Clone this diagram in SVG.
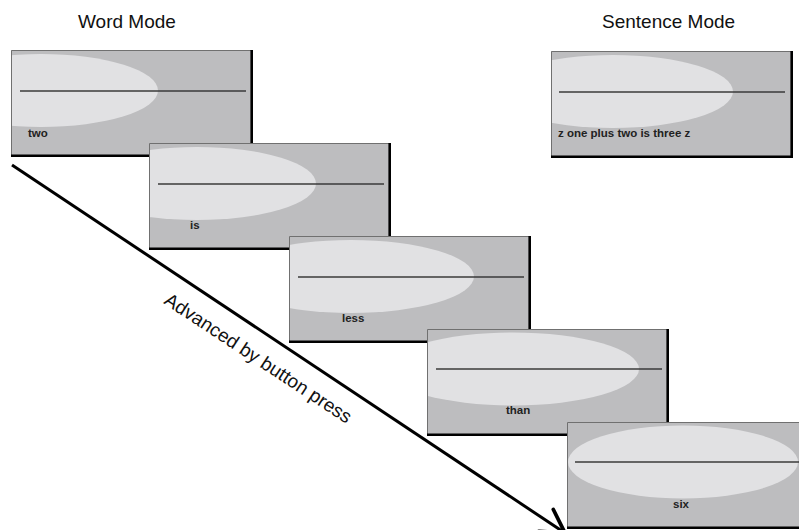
<svg xmlns="http://www.w3.org/2000/svg" width="799" height="530" viewBox="0 0 799 530">
  <defs>
    <marker id="arrow" markerUnits="userSpaceOnUse" markerWidth="30" markerHeight="30" refX="0" refY="0" viewBox="-22 -12 24 24" orient="auto" overflow="visible">
      <path d="M-18.2,-10.5 L0,0 L-18.2,10.5" fill="none" stroke="#000" stroke-width="3" stroke-linecap="round" stroke-linejoin="miter"/>
    </marker>
  </defs>
  <style>
    .bg { fill: #bdbdbf; }
    .ell { fill: #e1e1e3; }
    .rule { stroke: #3a3a3a; stroke-width: 1.6; }
    .edge { fill: none; stroke: #707070; stroke-width: 1; }
    .shadow { fill: none; stroke: #000; stroke-width: 2.6; }
    .word { font-family: "Liberation Sans", Arial, sans-serif; font-weight: bold; font-size: 11.5px; fill: #222; }
    .title { font-family: "Liberation Sans", Arial, sans-serif; font-size: 19px; fill: #111; }
    .conn { stroke: #000; stroke-width: 3; fill: none; }
  </style>
  <rect width="799" height="530" fill="#fff"/>

  <text class="title" x="78" y="28">Word Mode</text>
  <text class="title" x="602" y="28">Sentence Mode</text>

  <g id="connectors">
    <line class="conn" x1="12" y1="165" x2="565" y2="533" marker-end="url(#arrow)"/>
    <text class="title" transform="translate(163,303) rotate(33.4)">Advanced by button press</text>
  </g>

  <g id="sentence-box">
    <svg x="551" y="51" width="242" height="107">
      <rect class="bg" x="0" y="0" width="242" height="107"/>
      <ellipse class="ell" cx="62" cy="40.5" rx="120" ry="36.5"/>
      <line class="rule" x1="8" y1="41" x2="234" y2="41"/>
      <text class="word" x="7" y="86">z one plus two is three z</text>
      <path class="edge" d="M0.5,105 V0.5 H240"/>
      <path class="shadow" d="M240.7,0 V105.7 H0"/>
    </svg>
  </g>

  <g id="word-box-1">
    <svg x="11" y="50" width="242" height="107">
      <rect class="bg" x="0" y="0" width="242" height="107"/>
      <ellipse class="ell" cx="30" cy="40.5" rx="117" ry="36.5"/>
      <line class="rule" x1="9" y1="41" x2="235" y2="41"/>
      <text class="word" x="17" y="87">two</text>
      <path class="edge" d="M0.5,105 V0.5 H240"/>
      <path class="shadow" d="M240.7,0 V105.7 H0"/>
    </svg>
  </g>

  <g id="word-box-2">
    <svg x="149" y="143" width="242" height="107">
      <rect class="bg" x="0" y="0" width="242" height="107"/>
      <ellipse class="ell" cx="48" cy="40.5" rx="119" ry="36.5"/>
      <line class="rule" x1="9" y1="41" x2="235" y2="41"/>
      <text class="word" x="41" y="86">is</text>
      <path class="edge" d="M0.5,105 V0.5 H240"/>
      <path class="shadow" d="M240.7,0 V105.7 H0"/>
    </svg>
  </g>

  <g id="word-box-3">
    <svg x="289" y="236" width="242" height="107">
      <rect class="bg" x="0" y="0" width="242" height="107"/>
      <ellipse class="ell" cx="62" cy="40.5" rx="123" ry="36.5"/>
      <line class="rule" x1="9" y1="41" x2="235" y2="41"/>
      <text class="word" x="53" y="86">less</text>
      <path class="edge" d="M0.5,105 V0.5 H240"/>
      <path class="shadow" d="M240.7,0 V105.7 H0"/>
    </svg>
  </g>

  <g id="word-box-4">
    <svg x="427" y="329" width="242" height="107">
      <rect class="bg" x="0" y="0" width="242" height="107"/>
      <ellipse class="ell" cx="86" cy="40" rx="126" ry="36.5"/>
      <line class="rule" x1="9" y1="40" x2="235" y2="40"/>
      <text class="word" x="79" y="85">than</text>
      <path class="edge" d="M0.5,105 V0.5 H240"/>
      <path class="shadow" d="M240.7,0 V105.7 H0"/>
    </svg>
  </g>

  <g id="word-box-5">
    <svg x="567" y="422" width="242" height="107">
      <rect class="bg" x="0" y="0" width="242" height="107"/>
      <ellipse class="ell" cx="116" cy="40" rx="115" ry="36.5"/>
      <line class="rule" x1="8" y1="40" x2="234" y2="40"/>
      <text class="word" x="106" y="86">six</text>
      <path class="edge" d="M0.5,105 V0.5 H240"/>
      <path class="shadow" d="M240.7,0 V105.7 H0"/>
    </svg>
  </g>
</svg>
